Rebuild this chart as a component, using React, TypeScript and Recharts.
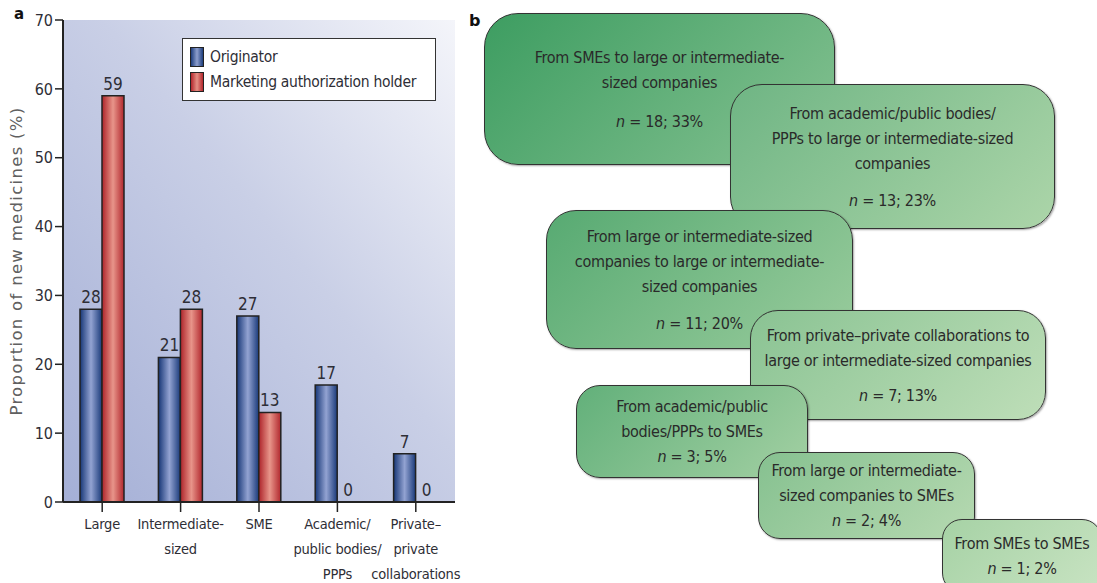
import React from "react"
import { BarChart, Bar, XAxis, YAxis, CartesianGrid, LabelList, Legend } from "recharts"

// panel a: origin of new medicines by company type
const categories = [
    "Large",
    "Intermediate-\nsized",
    "SME",
    "Academic/\npublic bodies/\nPPPs",
    "Private–\nprivate\ncollaborations",
]
const originator = [28, 21, 27, 17, 7]
const mahHolder = [59, 28, 13, 0, 0]
const yTicks = [0, 10, 20, 30, 40, 50, 60, 70]

// panel b: transfers between company types
const flowLabels = [
    "From SMEs to large or intermediate-\nsized companies",
    "From academic/public bodies/\nPPPs to large or intermediate-sized\ncompanies",
    "From large or intermediate-sized\ncompanies to large or intermediate-\nsized companies",
    "From private–private collaborations  to\nlarge or intermediate-sized companies",
    "From academic/public\nbodies/PPPs to SMEs",
    "From large or intermediate-\nsized companies to SMEs",
    "From SMEs to SMEs",
]
const flowCounts = [18, 13, 11, 7, 3, 2, 1]
const flowShares = [33, 23, 20, 13, 5, 4, 2]

const rows = categories.map((name, i) => ({ name, orig: originator[i], mah: mahHolder[i] }))

const NARROW = "'Liberation Sans Narrow', 'DejaVu Sans Condensed', 'Roboto Condensed', sans-serif"
const INK = "#2e2e36"

// box placement for panel b
const boxes = [
    { x: 484, y: 13, w: 351, h: 152, r: 34, from: "#3d9d61", to: "#86c292", gap: 14 },
    { x: 730, y: 84, w: 325, h: 145, r: 32, from: "#6fb584", to: "#acd5a9", gap: 12 },
    { x: 546, y: 210, w: 307, h: 139, r: 30, from: "#57aa72", to: "#9acc9d", gap: 12 },
    { x: 750, y: 310, w: 296, h: 110, r: 28, from: "#8ac393", to: "#bedeb8", gap: 10 },
    { x: 576, y: 385, w: 232, h: 93, r: 24, from: "#62b07a", to: "#a3d0a3", gap: 0 },
    { x: 758, y: 452, w: 217, h: 87, r: 22, from: "#86c190", to: "#b6d9b1", gap: 0 },
    { x: 942, y: 519, w: 160, h: 74, r: 20, from: "#a6d2a5", to: "#c8e3c2", gap: 0 },
]

function CatTick(props: any) {
    const { x, y, payload } = props
    const lines = String(payload.value).split("\n")
    return (
        <text x={x} y={y} textAnchor="middle" fill={INK} fontSize={14.5} fontFamily={NARROW} letterSpacing={-0.2}>
            {lines.map((l, i) => (
                <tspan key={i} x={x} dy={i === 0 ? 15 : 25}>{l}</tspan>
            ))}
        </text>
    )
}

const valueText = (x: number, y: number, v: number, key?: string) => (
    <text key={key} x={x} y={y} textAnchor="middle" fill={INK} fontSize={17} fontFamily={NARROW}>{v}</text>
)

// originator value; a zero-height holder bar has no rect of its own,
// so its "0" is placed on the slot right next to the originator bar
function OrigValue(props: any) {
    const vb = props.viewBox ?? props
    const x = Number(vb.x), y = Number(vb.y), w = Number(vb.width), h = Number(vb.height)
    const i = Number(props.index)
    return (
        <g>
            {valueText(x + w / 2, y - 6, props.value)}
            {mahHolder[i] === 0 && valueText(x + w * 1.5, y + h - 6, mahHolder[i], "z")}
        </g>
    )
}

function HolderValue(props: any) {
    const vb = props.viewBox ?? props
    return valueText(Number(vb.x) + Number(vb.width) / 2, Number(vb.y) - 6, props.value)
}

function LegendBox() {
    const item = (grad: string, label: string) => (
        <div style={{ display: "flex", alignItems: "center", height: 25, whiteSpace: "nowrap" }}>
            <span style={{
                display: "inline-block", width: 12, height: 18, marginRight: 6, flex: "none",
                border: "1.5px solid #222", background: grad,
            }} />
            <span>{label}</span>
        </div>
    )
    return (
        <div style={{
            border: "1.5px solid #333", background: "#fff", padding: "5px 4px 5px 7px",
            fontFamily: NARROW, fontSize: 15.5, letterSpacing: -0.3, color: INK, lineHeight: "20px",
            boxSizing: "border-box", height: 63,
        }}>
            {item("linear-gradient(90deg,#1d3d7c,#8d9ecd,#1d3d7c)", "Originator")}
            {item("linear-gradient(90deg,#b3262c,#e58f84,#b3262c)", "Marketing authorization holder")}
        </div>
    )
}

export default function App() {
    return (
        <div style={{
            position: "absolute", left: 0, top: 0, width: 1097, height: 583,
            background: "#fff", overflow: "hidden",
        }}>
            <div style={{ position: "absolute", left: 0, top: 0 }}>
                <BarChart width={470} height={583} data={rows} barGap={0}
                    margin={{ top: 20, right: 15, bottom: 0, left: 23 }}>
                    <defs>
                        <linearGradient id="plotBg" x1="0" y1="1" x2="1" y2="0">
                            <stop offset="0%" stopColor="#a4afd6" />
                            <stop offset="55%" stopColor="#c9cfe6" />
                            <stop offset="100%" stopColor="#f4f5fa" />
                        </linearGradient>
                        <linearGradient id="blueBar" x1="0" y1="0" x2="1" y2="0">
                            <stop offset="0%" stopColor="#163676" />
                            <stop offset="50%" stopColor="#93a3d2" />
                            <stop offset="100%" stopColor="#1a3a7a" />
                        </linearGradient>
                        <linearGradient id="redBar" x1="0" y1="0" x2="1" y2="0">
                            <stop offset="0%" stopColor="#ad2329" />
                            <stop offset="50%" stopColor="#e8958a" />
                            <stop offset="100%" stopColor="#b1272d" />
                        </linearGradient>
                    </defs>
                    <CartesianGrid horizontal={false} vertical={false} fill="url(#plotBg)" stroke="none" />
                    <XAxis dataKey="name" interval={0} tickSize={10} height={81}
                        axisLine={{ stroke: "#222", strokeWidth: 2 }} tickLine={{ stroke: "#222", strokeWidth: 1.5 }}
                        tick={<CatTick />} />
                    <YAxis domain={[0, 70]} ticks={yTicks} width={40} tickSize={8}
                        axisLine={{ stroke: "#222", strokeWidth: 2 }} tickLine={{ stroke: "#222", strokeWidth: 1.5 }}
                        tick={{ fill: INK, fontSize: 16, fontFamily: NARROW }} />
                    <Legend layout="horizontal" verticalAlign="middle" align="center"
                        wrapperStyle={{ left: 182, top: 38, width: 254 }} content={<LegendBox />} />
                    <Bar dataKey="orig" name="Originator" barSize={22} fill="url(#blueBar)"
                        stroke="#222" strokeWidth={1.5} isAnimationActive={false}>
                        <LabelList dataKey="orig" content={OrigValue} />
                    </Bar>
                    <Bar dataKey="mah" name="Marketing authorization holder" barSize={22} fill="url(#redBar)"
                        stroke="#222" strokeWidth={1.5} isAnimationActive={false}>
                        <LabelList dataKey="mah" content={HolderValue} />
                    </Bar>
                </BarChart>
            </div>

            <svg width={40} height={583} style={{ position: "absolute", left: 0, top: 0 }}>
                <text x={14} y={19} fontSize={15} fontWeight="bold" fontFamily="'DejaVu Sans', sans-serif" fill="#111">a</text>
                <text transform="translate(22,261) rotate(-90)" textAnchor="middle" fontSize={16.5} letterSpacing={1.3}
                    fontFamily="'DejaVu Sans', sans-serif" fill="#606060">Proportion of new medicines (%)</text>
            </svg>
            <div style={{
                position: "absolute", left: 469, top: 11, fontSize: 16, fontWeight: "bold",
                fontFamily: "'DejaVu Sans', sans-serif", color: "#111",
            }}>b</div>

            {boxes.map((b, i) => (
                <div key={i} style={{
                    position: "absolute", left: b.x, top: b.y, width: b.w, height: b.h,
                    boxSizing: "border-box", borderRadius: b.r, border: "1.5px solid #333",
                    background: `linear-gradient(135deg, ${b.from}, ${b.to})`,
                    boxShadow: "1px 1px 2px rgba(0,0,0,0.35)",
                    display: "flex", flexDirection: "column", alignItems: "center", justifyContent: "center",
                    fontFamily: NARROW, fontSize: 16, letterSpacing: -0.3, color: "#2a2a2a",
                    lineHeight: "25px", textAlign: "center",
                }}>
                    <div style={{ whiteSpace: "pre-line" }}>{flowLabels[i]}</div>
                    <div style={{ marginTop: b.gap }}>
                        <i>n</i> = {flowCounts[i]}; {flowShares[i]}%
                    </div>
                </div>
            ))}
        </div>
    )
}
